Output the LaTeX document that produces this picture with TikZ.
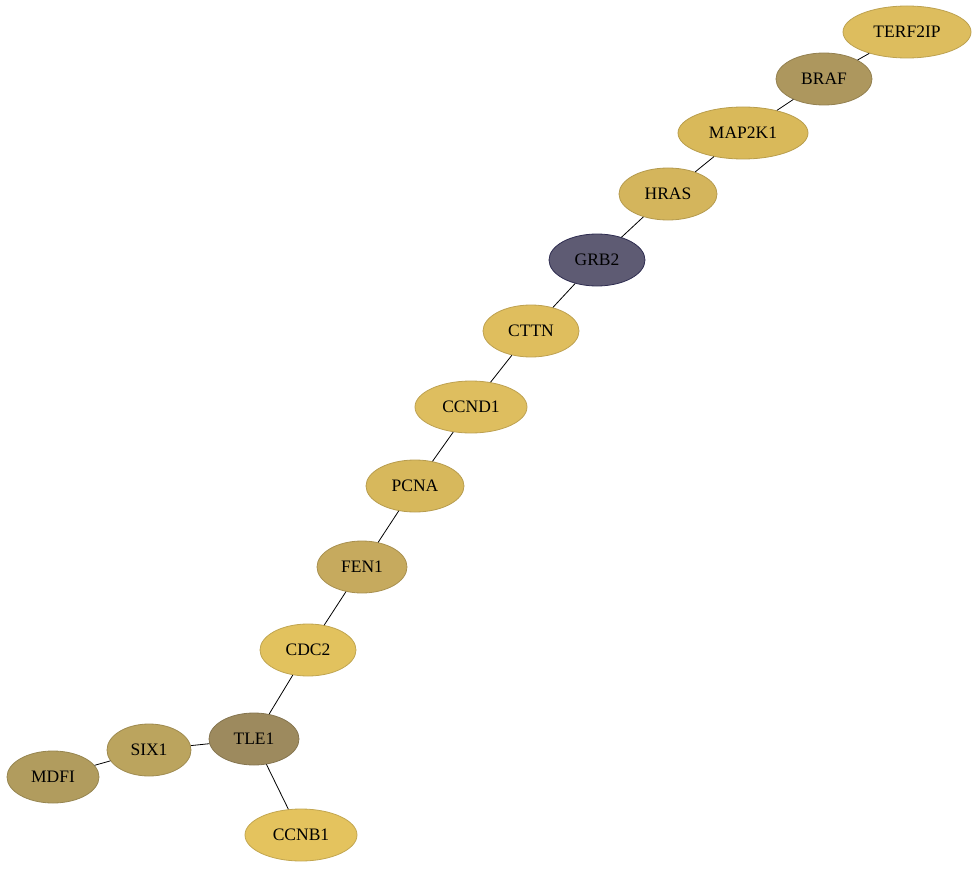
\documentclass[tikz,border=0pt]{standalone}
\usepackage{fontspec}
\setmainfont{Liberation Serif}
\usetikzlibrary{shapes.geometric}
\tikzset{
  gene/.style={ellipse, draw=#1!85!black, fill=#1, line width=0.8pt, inner sep=0pt,
    minimum height=52pt, font=\fontsize{17.5}{20}\selectfont, text=black},
  link/.style={draw=black, line width=0.8pt}
}
\definecolor{cTERF}{HTML}{DDBD5E}
\definecolor{cBRAF}{HTML}{AD975E}
\definecolor{cMAP}{HTML}{D9B95A}
\definecolor{cHRAS}{HTML}{D4B55C}
\definecolor{cGRB}{HTML}{5E5B73}
\definecolor{cCTTN}{HTML}{DFBE5E}
\definecolor{cCCND}{HTML}{DEBE5F}
\definecolor{cPCNA}{HTML}{D7B85C}
\definecolor{cFEN}{HTML}{C6AA5E}
\definecolor{cCDC}{HTML}{E2C25E}
\definecolor{cTLE}{HTML}{9D8A5E}
\definecolor{cSIX}{HTML}{BBA45E}
\definecolor{cMDFI}{HTML}{B19C5E}
\definecolor{cCCNB}{HTML}{E4C35E}
\definecolor{cGRBborder}{HTML}{2E2C50}
\begin{document}
\begin{tikzpicture}[x=1pt,y=-1pt]
\useasboundingbox (0,0) rectangle (979,869);
\node[gene=cTERF, minimum width=128pt] (TERF2IP) at (907,32) {TERF2IP};
\node[gene=cBRAF, minimum width=96pt] (BRAF) at (824,79) {BRAF};
\node[gene=cMAP, minimum width=130pt] (MAP2K1) at (743,133) {MAP2K1};
\node[gene=cHRAS, minimum width=98pt] (HRAS) at (668,194) {HRAS};
\node[gene=cGRB, minimum width=96pt, draw=cGRBborder] (GRB2) at (597,260) {GRB2};
\node[gene=cCTTN, minimum width=96pt] (CTTN) at (531,331) {CTTN};
\node[gene=cCCND, minimum width=112pt] (CCND1) at (471,407) {CCND1};
\node[gene=cPCNA, minimum width=98pt] (PCNA) at (415,486) {PCNA};
\node[gene=cFEN, minimum width=90pt] (FEN1) at (362,567) {FEN1};
\node[gene=cCDC, minimum width=96pt] (CDC2) at (308,650) {CDC2};
\node[gene=cTLE, minimum width=90pt] (TLE1) at (254,739) {TLE1};
\node[gene=cSIX, minimum width=84pt] (SIX1) at (149,750) {SIX1};
\node[gene=cMDFI, minimum width=92pt] (MDFI) at (53,777) {MDFI};
\node[gene=cCCNB, minimum width=112pt] (CCNB1) at (301,835) {CCNB1};
\draw[link] (TERF2IP) -- (BRAF);
\draw[link] (BRAF) -- (MAP2K1);
\draw[link] (MAP2K1) -- (HRAS);
\draw[link] (HRAS) -- (GRB2);
\draw[link] (GRB2) -- (CTTN);
\draw[link] (CTTN) -- (CCND1);
\draw[link] (CCND1) -- (PCNA);
\draw[link] (PCNA) -- (FEN1);
\draw[link] (FEN1) -- (CDC2);
\draw[link] (CDC2) -- (TLE1);
\draw[link] (TLE1) -- (SIX1);
\draw[link] (SIX1) -- (MDFI);
\draw[link] (TLE1) -- (CCNB1);
\end{tikzpicture}
\end{document}
